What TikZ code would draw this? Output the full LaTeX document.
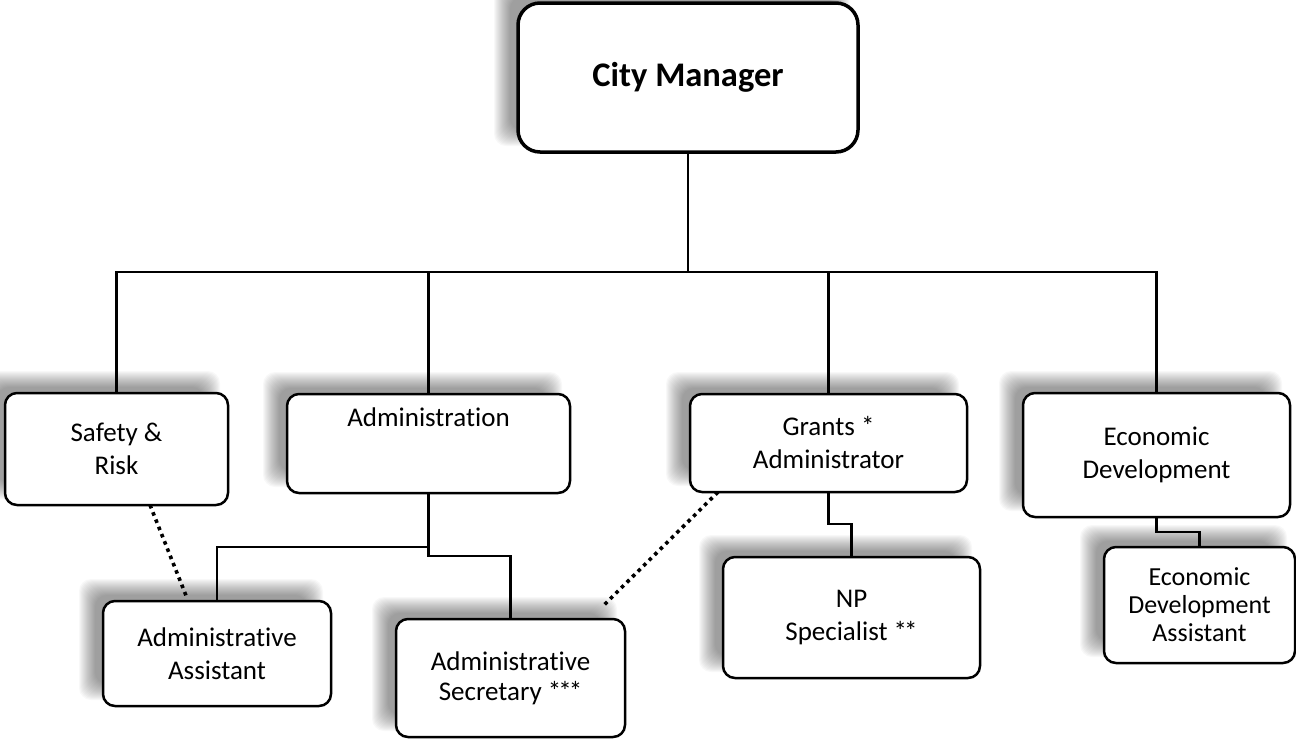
\documentclass[tikz,border=0pt]{standalone}
\usepackage{fontspec}
\setmainfont{Carlito}[Ligatures=CommonOff]
\pgfdeclarelayer{shadowlayer}
\pgfdeclarelayer{linelayer}
\pgfsetlayers{shadowlayer,linelayer,main}
\tikzset{
  box/.style={draw, line width=2.5pt, rounded corners=12pt, fill=white, align=center,
    inner sep=0pt, outer sep=0pt, font=\fontsize{27}{33}\selectfont},
  topbox/.style={box, line width=3.5pt, rounded corners=22pt, font=\fontsize{34.5}{40}\selectfont\bfseries},
  conn/.style={line width=2.5pt},
  dotline/.style={line width=3.6pt, dash pattern=on 3.6pt off 4.2pt},
}
\newcommand{\softshadow}[1]{%
  \foreach \e in {-8,-7,...,8}{%
    \fill[black, opacity=0.028, rounded corners=12pt]
      ([shift={({-16-(\e)},{-14-(\e)})}]#1.north west) rectangle
      ([shift={({-16+(\e)},{-14+(\e)})}]#1.south east);
  }}
\begin{document}
\begin{tikzpicture}[x=1pt, y=-1pt]
\useasboundingbox (0,0) rectangle (1296,740);
% boxes
\node[topbox, minimum width=340pt, minimum height=149pt] (cm) at (688,77.5) {City Manager};
\node[box, minimum width=223pt, minimum height=112pt] (safety) at (116.5,449) {Safety \&\\Risk};
\node[box, minimum width=283pt, minimum height=99pt, text height=19pt, text depth=53pt] (admin) at (428.5,443.5) {Administration};
\node[box, minimum width=277pt, minimum height=98pt] (grants) at (828.5,443) {Grants *\\Administrator};
\node[box, minimum width=267pt, minimum height=124pt] (econ) at (1156.5,455) {Economic\\Development};
\node[box, minimum width=228pt, minimum height=105pt] (aa) at (217,653.5) {Administrative\\Assistant};
\node[box, minimum width=229pt, minimum height=118pt, font=\fontsize{27}{30}\selectfont] (sec) at (510.5,678) {Administrative\\Secretary *\kern-3pt*\kern-3pt*};
\node[box, minimum width=257pt, minimum height=121pt] (np) at (851.5,617.5) {NP\\Specialist *\kern-3pt*};
\node[box, minimum width=191pt, minimum height=116pt, font=\fontsize{26}{28}\selectfont] (eda) at (1199.5,605) {Economic\\Development\\Assistant};
% shadows
\begin{pgfonlayer}{shadowlayer}
  \softshadow{cm}\softshadow{safety}\softshadow{admin}\softshadow{grants}
  \softshadow{econ}\softshadow{aa}\softshadow{sec}\softshadow{np}\softshadow{eda}
\end{pgfonlayer}
% connectors
\begin{pgfonlayer}{linelayer}
  \draw[conn] (cm.south) -- ++(0,120) coordinate (bus);
  \draw[conn] (safety.north) -- (safety.north |- bus) -- (econ.north |- bus) -- (econ.north);
  \draw[conn] (admin.north) -- (admin.north |- bus);
  \draw[conn] (grants.north) -- (grants.north |- bus);
  \draw[conn] (admin.south) -- ++(0,54) coordinate (aj) -| (aa.north);
  \draw[conn] (aj) -- ++(0,9) -| (sec.north);
  \draw[conn] (grants.south) -- ++(0,32) -| (np.north);
  \draw[conn] (econ.south) -- ++(0,15) -| (eda.north);
  \draw[dotline] ([xshift=33.5pt]safety.south) -- ([xshift=-30pt,yshift=3pt]aa.north);
  \draw[dotline] ([xshift=28pt]grants.south west) -- ([xshift=206pt,yshift=12pt]sec.north west);
\end{pgfonlayer}
\end{tikzpicture}
\end{document}
